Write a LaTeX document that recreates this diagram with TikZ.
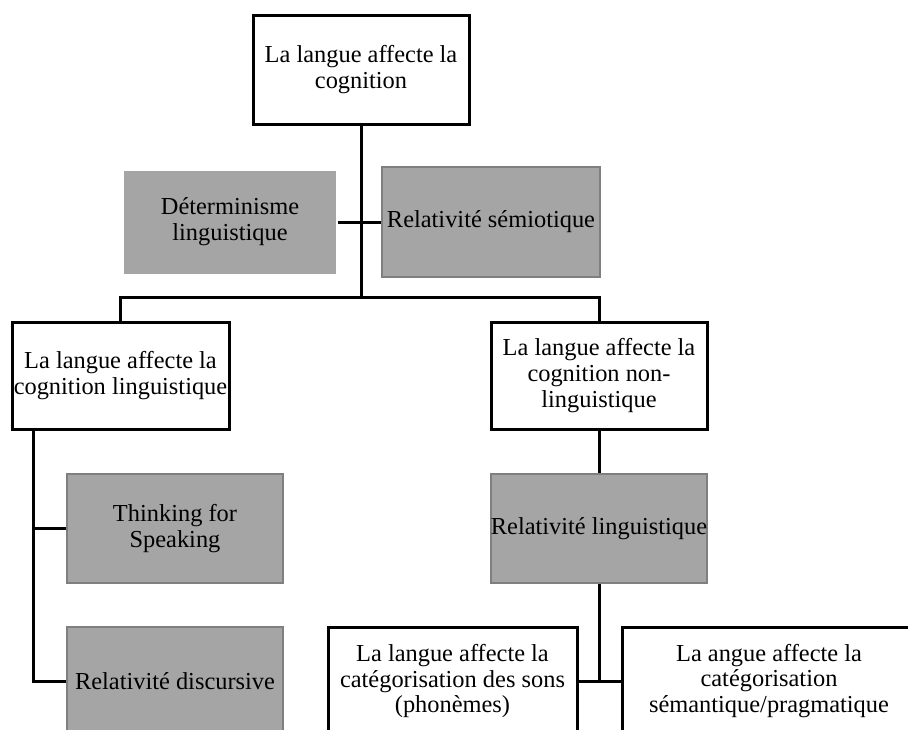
\documentclass[tikz,border=0pt]{standalone}
\usepackage{fontspec}
\setmainfont{Liberation Serif}
\definecolor{boxfill}{HTML}{A5A5A5}
\definecolor{boxedge}{HTML}{7F7F7F}
\begin{document}
\begin{tikzpicture}[x=1pt,y=-1pt,
  plainbox/.style={draw=black, line width=3pt, fill=white, inner sep=0pt,
    align=center, font=\fontsize{24.4}{25.8}\selectfont},
  greybox/.style={plainbox, draw=boxedge, line width=2.6pt, fill=boxfill},
  softbox/.style={plainbox, draw=none, fill=boxfill},
  link/.style={draw=black, line width=3pt}]
\useasboundingbox (0,0) rectangle (908,729);
\clip (0,0) rectangle (908,729);

% root
\node[plainbox, minimum width=216pt, minimum height=109pt] (top) at (361,69.5)
  {La langue affecte la\\cognition};

% two views beside the trunk
\node[softbox, minimum width=212pt, minimum height=103pt] (det) at (230,222)
  {D\'eterminisme\\linguistique};
\node[greybox, minimum width=218pt, minimum height=110pt] (sem) at (491,222)
  {Relativit\'e s\'emiotique};

% second level
\node[plainbox, minimum width=217pt, minimum height=107pt] (lb) at (120.5,375.5)
  {La langue affecte la\\cognition linguistique};
\node[plainbox, minimum width=216pt, minimum height=107pt] (rb) at (599,375.5)
  {La langue affecte la\\cognition non-\\linguistique};

% left branch
\node[greybox, minimum width=216pt, minimum height=109pt] (tfs) at (175,528.5)
  {Thinking for\\Speaking};
\node[greybox, minimum width=216pt, minimum height=109pt] (disc) at (175,681.5)
  {Relativit\'e discursive};

% right branch
\node[greybox, minimum width=216pt, minimum height=109pt] (rl) at (599,528.5)
  {Relativit\'e linguistique};
\node[plainbox, minimum width=249pt, minimum height=108pt] (bl) at (452.5,681)
  {La langue affecte la\\cat\'egorisation des sons\\(phon\`emes)};
\node[plainbox, minimum width=294pt, minimum height=108pt] (br) at (769,681)
  {La angue affecte la\\cat\'egorisation\\s\'emantique/pragmatique};

% connectors
\coordinate (fork) at (361,297);
\draw[link] (top.south) -- (fork);
\draw[link] (det.east) -- (sem.west);
\draw[link] (lb.north) |- (fork) -| (rb.north);
\draw[link] ([xshift=23pt]lb.south west) |- (tfs.west);
\draw[link] ([xshift=23pt]lb.south west) |- (disc.west);
\draw[link] (rb.south) -- (rl.north);
\draw[link] (rl.south) |- (bl.east);
\draw[link] (bl.east) -- (br.west);
\end{tikzpicture}
\end{document}
